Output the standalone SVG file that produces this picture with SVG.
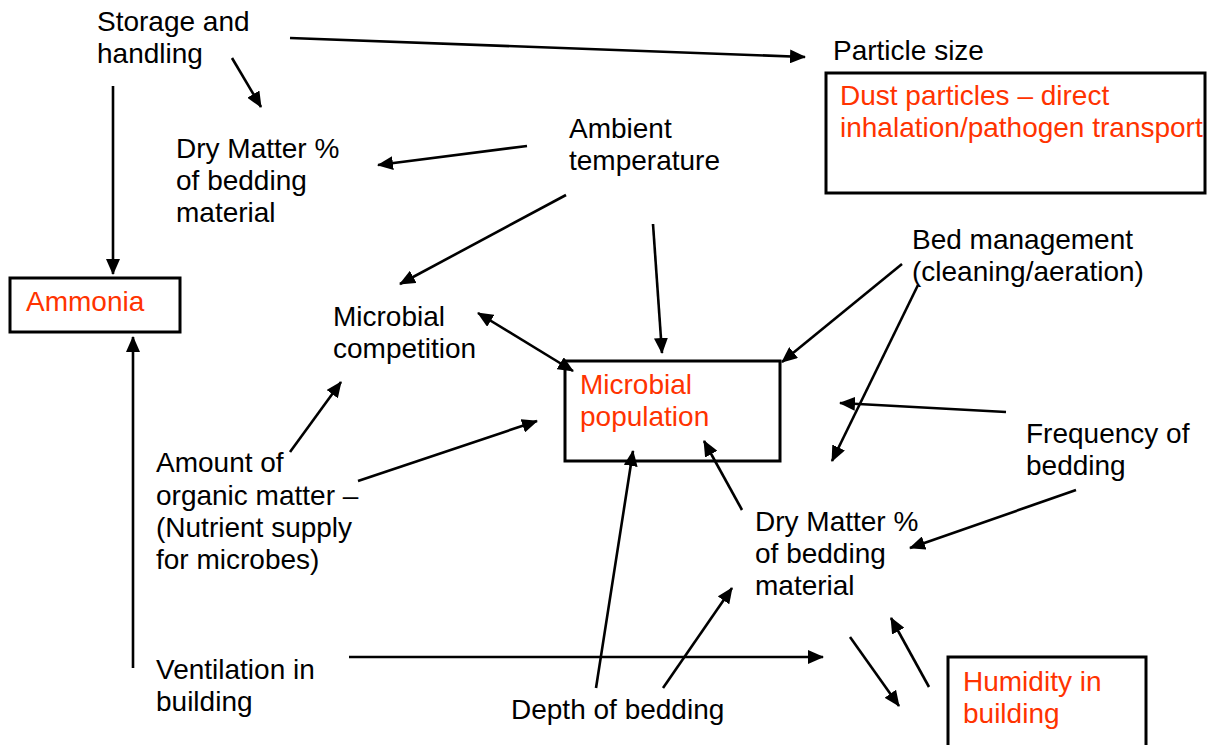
<svg xmlns="http://www.w3.org/2000/svg" width="1215" height="745" viewBox="0 0 1215 745">
<defs>
<marker id="ah" markerUnits="userSpaceOnUse" markerWidth="16" markerHeight="14" refX="15" refY="7" orient="auto-start-reverse">
<path d="M0,0 L16,7 L0,14 z" fill="#000"/>
</marker>
<style>
text{font-family:"Liberation Sans",Arial,sans-serif;font-size:28px;fill:#000}
.red{fill:#ff3300}
.box{fill:none;stroke:#000;stroke-width:3}
.c line{stroke:#000;stroke-width:2.6;marker-end:url(#ah)}
.c line.both{marker-start:url(#ah)}
</style>
</defs>
<rect width="1215" height="745" fill="#fff"/>
<g class="c" id="connectors">
<line x1="290" y1="38" x2="805" y2="57"/>
<line x1="232" y1="58" x2="261" y2="107"/>
<line x1="113" y1="86" x2="113" y2="274"/>
<line x1="527" y1="146" x2="378" y2="165"/>
<line x1="566" y1="195" x2="400" y2="284"/>
<line x1="653" y1="224" x2="662" y2="353"/>
<line class="both" x1="478" y1="313" x2="573" y2="371"/>
<line x1="902" y1="264" x2="782" y2="362"/>
<line x1="918" y1="285" x2="832" y2="461"/>
<line x1="1006" y1="412" x2="840" y2="403"/>
<line x1="1076" y1="490" x2="910" y2="548"/>
<line x1="742" y1="510" x2="704" y2="441"/>
<line x1="290" y1="452" x2="341" y2="382"/>
<line x1="358" y1="481" x2="537" y2="421"/>
<line x1="133" y1="668" x2="133" y2="337"/>
<line x1="349" y1="657" x2="823" y2="657"/>
<line x1="596" y1="688" x2="633" y2="451"/>
<line x1="663" y1="688" x2="732" y2="588"/>
<line x1="850" y1="637" x2="899" y2="706"/>
<line x1="929" y1="687" x2="891" y2="618"/>
</g>
<g id="storage"><text x="97" y="31">Storage and</text><text x="97" y="63">handling</text></g>
<g id="particle-size"><text x="833" y="60">Particle size</text></g>
<g id="dust"><rect class="box" x="826" y="73" width="379" height="120"/><text class="red" x="840" y="105">Dust particles – direct</text><text class="red" x="840" y="137">inhalation/pathogen transport</text></g>
<g id="drymatter1"><text x="176" y="158">Dry Matter %</text><text x="176" y="190">of bedding</text><text x="176" y="222">material</text></g>
<g id="ambient"><text x="569" y="138">Ambient</text><text x="569" y="170">temperature</text></g>
<g id="ammonia"><rect class="box" x="10" y="278" width="170" height="54"/><text class="red" x="26" y="311">Ammonia</text></g>
<g id="competition"><text x="333" y="326">Microbial</text><text x="333" y="358">competition</text></g>
<g id="bed-management"><text x="912" y="249">Bed management</text><text x="912" y="281">(cleaning/aeration)</text></g>
<g id="population"><rect class="box" x="565" y="361" width="215" height="100"/><text class="red" x="580" y="394">Microbial</text><text class="red" x="580" y="426">population</text></g>
<g id="frequency"><text x="1026" y="443">Frequency of</text><text x="1026" y="475">bedding</text></g>
<g id="organic"><text x="156" y="472">Amount of</text><text x="156" y="505">organic matter –</text><text x="156" y="537">(Nutrient supply</text><text x="156" y="569">for microbes)</text></g>
<g id="drymatter2"><text x="755" y="531">Dry Matter %</text><text x="755" y="563">of bedding</text><text x="755" y="595">material</text></g>
<g id="ventilation"><text x="156" y="679">Ventilation in</text><text x="156" y="711">building</text></g>
<g id="depth"><text x="511" y="719">Depth of bedding</text></g>
<g id="humidity"><rect class="box" x="948" y="657" width="198" height="100"/><text class="red" x="963" y="691">Humidity in</text><text class="red" x="963" y="723">building</text></g>
</svg>
